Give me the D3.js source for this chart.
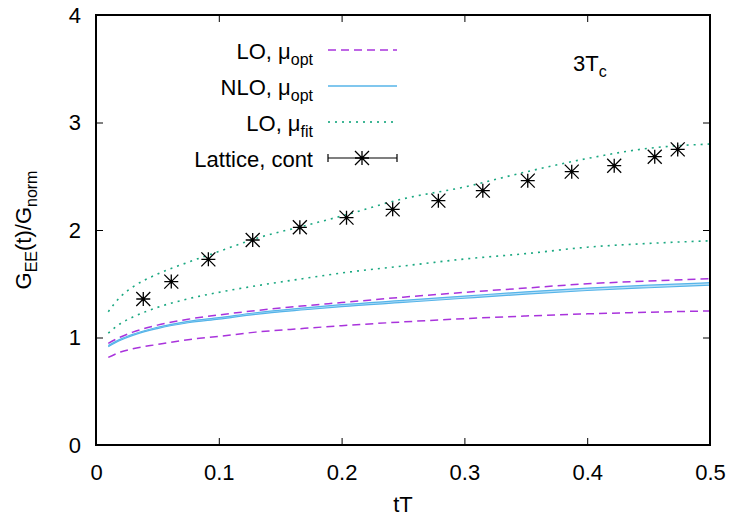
<!DOCTYPE html>
<html lang="en">
    <head>
        <meta charset="utf-8">
        <title>G_EE(t)/G_norm at 3Tc</title>
        <script type="text/javascript" src="https://cdn.jsdelivr.net/npm/d3@7"></script>
        <style>
            body { margin: 0; background: #fff; }
            text { font-family: "Liberation Sans", Arial, sans-serif; fill: #000; }
        </style>
    </head>
    <body>
        <script type="text/javascript">
            //curve grid (tT)
            var tGrid = [0.01, 0.02, 0.03, 0.05, 0.075, 0.1, 0.13, 0.17, 0.2, 0.25, 0.3, 0.35, 0.4, 0.45, 0.5];

            //LO, mu_opt band (purple dashed)
            var loOptHigh = [0.945, 1.005, 1.05, 1.115, 1.17, 1.21, 1.25, 1.295, 1.325, 1.375, 1.42, 1.46, 1.50, 1.525, 1.547];
            var loOptLow  = [0.815, 0.865, 0.895, 0.935, 0.98, 1.01, 1.05, 1.085, 1.11, 1.145, 1.175, 1.20, 1.22, 1.235, 1.247];

            //NLO, mu_opt band (blue solid)
            var nloOptHigh = [0.925, 0.985, 1.03, 1.095, 1.15, 1.185, 1.23, 1.275, 1.305, 1.345, 1.385, 1.425, 1.46, 1.487, 1.51];
            var nloOptLow  = [0.915, 0.975, 1.02, 1.083, 1.137, 1.171, 1.215, 1.258, 1.287, 1.326, 1.365, 1.403, 1.437, 1.463, 1.486];

            //LO, mu_fit band (green dotted)
            var loFitHigh = [1.24, 1.38, 1.47, 1.59, 1.70, 1.80, 1.92, 2.04, 2.13, 2.29, 2.40, 2.54, 2.665, 2.76, 2.80];
            var loFitLow  = [1.04, 1.13, 1.19, 1.28, 1.36, 1.42, 1.48, 1.55, 1.60, 1.665, 1.73, 1.78, 1.84, 1.875, 1.90];

            //lattice, continuum
            var latT   = [0.0385, 0.0613, 0.0915, 0.1276, 0.166, 0.204, 0.2416, 0.2788, 0.315, 0.3516, 0.3874, 0.422, 0.455, 0.4737];
            var latG   = [1.358, 1.52, 1.727, 1.907, 2.025, 2.115, 2.192, 2.273, 2.366, 2.459, 2.543, 2.598, 2.682, 2.75];
            var latErr = [0.02, 0.02, 0.02, 0.02, 0.02, 0.02, 0.02, 0.02, 0.02, 0.02, 0.02, 0.02, 0.02, 0.04];

            var xTicks = [0, 0.1, 0.2, 0.3, 0.4, 0.5];
            var yTicks = [0, 1, 2, 3, 4];

            var svgWidth = 733;
            var svgHeight = 518;
            var margin = {left: 96, right: 23, top: 15, bottom: 73};
            var fontSize = "22px";
            var subSize = "16px";

            var svg = d3.select("body")
                        .append("svg")
                        .attr("width", svgWidth)
                        .attr("height", svgHeight);

            var xScale = d3.scaleLinear()
                           .domain([0, 0.5])
                           .range([margin.left, svgWidth - margin.right]);
            var yScale = d3.scaleLinear()
                           .domain([0, 4])
                           .range([svgHeight - margin.bottom, margin.top]);

            var x0 = xScale(0), x1 = xScale(0.5), y0 = yScale(0), y1 = yScale(4);

            //axes with inward ticks, mirrored
            var fmtX = function(d) { return d === 0 ? "0" : d3.format(".1f")(d); };
            svg.append("g")
               .attr("transform", "translate(0," + y0 + ")")
               .call(d3.axisBottom(xScale).tickValues(xTicks).tickSizeInner(-7).tickSizeOuter(0).tickPadding(19).tickFormat(fmtX));
            svg.append("g")
               .attr("transform", "translate(0," + y1 + ")")
               .call(d3.axisTop(xScale).tickValues(xTicks).tickSizeInner(-7).tickSizeOuter(0).tickFormat(""));
            svg.append("g")
               .attr("transform", "translate(" + x0 + ",0)")
               .call(d3.axisLeft(yScale).tickValues(yTicks).tickSizeInner(-7).tickSizeOuter(0).tickPadding(15).tickFormat(d3.format("d")));
            svg.append("g")
               .attr("transform", "translate(" + x1 + ",0)")
               .call(d3.axisRight(yScale).tickValues(yTicks).tickSizeInner(-7).tickSizeOuter(0).tickFormat(""));

            svg.selectAll(".domain").remove();
            svg.selectAll(".tick line").attr("stroke", "#000").attr("stroke-width", 1);
            svg.selectAll(".tick text")
               .style("font-family", "'Liberation Sans', Arial, sans-serif")
               .style("font-size", fontSize)
               .attr("fill", "#000");

            //curves
            var lineOf = function(vals) {
                return d3.line()
                         .x(function(d, i) { return xScale(tGrid[i]); })
                         .y(function(d) { return yScale(d); })
                         .curve(d3.curveMonotoneX)(vals);
            };

            var plot = svg.append("g");

            plot.append("path")
                .attr("d", d3.area()
                             .x(function(d, i) { return xScale(tGrid[i]); })
                             .y0(function(d, i) { return yScale(nloOptLow[i]); })
                             .y1(function(d) { return yScale(d); })
                             .curve(d3.curveMonotoneX)(nloOptHigh))
                .attr("fill", "#b8e0f7");

            [nloOptHigh, nloOptLow].forEach(function(v) {
                plot.append("path").attr("d", lineOf(v))
                    .attr("fill", "none").attr("stroke", "#56b4e9").attr("stroke-width", 1.2);
            });
            [loOptHigh, loOptLow].forEach(function(v) {
                plot.append("path").attr("d", lineOf(v))
                    .attr("fill", "none").attr("stroke", "#9400d3").attr("stroke-width", 1.5)
                    .attr("stroke-dasharray", "8,5").attr("stroke-opacity", 0.8);
            });
            [loFitHigh, loFitLow].forEach(function(v) {
                plot.append("path").attr("d", lineOf(v))
                    .attr("fill", "none").attr("stroke", "#009e73").attr("stroke-width", 1.6)
                    .attr("stroke-dasharray", "2,5").attr("stroke-opacity", 0.9);
            });

            //lattice points: error bars + asterisk
            var star = function(g, cx, cy, r) {
                var p = "M" + (cx - r) + "," + cy + "H" + (cx + r) +
                        "M" + cx + "," + (cy - r) + "V" + (cy + r) +
                        "M" + (cx - r) + "," + (cy - r) + "L" + (cx + r) + "," + (cy + r) +
                        "M" + (cx - r) + "," + (cy + r) + "L" + (cx + r) + "," + (cy - r);
                g.append("path").attr("d", p).attr("stroke", "#000").attr("stroke-width", 1.3).attr("fill", "none");
            };
            var lat = svg.append("g");
            latT.forEach(function(t, i) {
                var cx = xScale(t);
                lat.append("line")
                   .attr("x1", cx).attr("x2", cx)
                   .attr("y1", yScale(latG[i] - latErr[i])).attr("y2", yScale(latG[i] + latErr[i]))
                   .attr("stroke", "#000").attr("stroke-width", 1.3);
                star(lat, cx, yScale(latG[i]), 7);
            });

            //frame
            svg.append("rect")
               .attr("x", x0).attr("y", y1)
               .attr("width", x1 - x0).attr("height", y0 - y1)
               .attr("fill", "none").attr("stroke", "#000").attr("stroke-width", 2);

            //legend
            var legend = svg.append("g");
            var rows = [
                {main: "LO, \u03bc", sub: "opt", kind: "lo"},
                {main: "NLO, \u03bc", sub: "opt", kind: "nlo"},
                {main: "LO, \u03bc", sub: "fit", kind: "fit"},
                {main: "Lattice, cont", sub: "", kind: "lat"}
            ];
            rows.forEach(function(r, i) {
                var ly = 50 + 36 * i;
                var t = legend.append("text")
                              .attr("x", 313).attr("y", ly + 9)
                              .attr("text-anchor", "end")
                              .style("font-size", fontSize);
                t.append("tspan").text(r.main);
                if (r.sub) {
                    t.append("tspan").attr("dy", 6).style("font-size", subSize).text(r.sub);
                }
                if (r.kind === "lo") {
                    legend.append("line").attr("x1", 328).attr("x2", 397).attr("y1", ly).attr("y2", ly)
                          .attr("stroke", "#9400d3").attr("stroke-width", 1.5).attr("stroke-dasharray", "8,5").attr("stroke-opacity", 0.8);
                } else if (r.kind === "nlo") {
                    legend.append("line").attr("x1", 328).attr("x2", 397).attr("y1", ly).attr("y2", ly)
                          .attr("stroke", "#56b4e9").attr("stroke-width", 1.3);
                } else if (r.kind === "fit") {
                    legend.append("line").attr("x1", 328).attr("x2", 397).attr("y1", ly).attr("y2", ly)
                          .attr("stroke", "#009e73").attr("stroke-width", 1.6).attr("stroke-dasharray", "2,5");
                } else {
                    legend.append("path")
                          .attr("d", "M328," + ly + "H397M328," + (ly - 4) + "V" + (ly + 4) + "M397," + (ly - 4) + "V" + (ly + 4))
                          .attr("stroke", "#000").attr("stroke-width", 1.2).attr("fill", "none");
                    star(legend, 362, ly, 7);
                }
            });

            //temperature label
            var tl = svg.append("text").attr("x", 573).attr("y", 71).style("font-size", fontSize);
            tl.append("tspan").text("3T");
            tl.append("tspan").attr("dy", 6).style("font-size", subSize).text("c");

            //axis titles
            svg.append("text")
               .attr("x", xScale(0.25)).attr("y", 512)
               .attr("text-anchor", "middle")
               .style("font-size", fontSize)
               .text("tT");

            var yl = svg.append("text")
                        .attr("transform", "translate(31," + yScale(2) + ") rotate(-90)")
                        .attr("text-anchor", "middle")
                        .style("font-size", fontSize);
            yl.append("tspan").text("G");
            yl.append("tspan").attr("dy", 6).style("font-size", subSize).text("EE");
            yl.append("tspan").attr("dy", -6).text("(t)/G");
            yl.append("tspan").attr("dy", 6).style("font-size", subSize).text("norm");
        </script>
    </body>
</html>
